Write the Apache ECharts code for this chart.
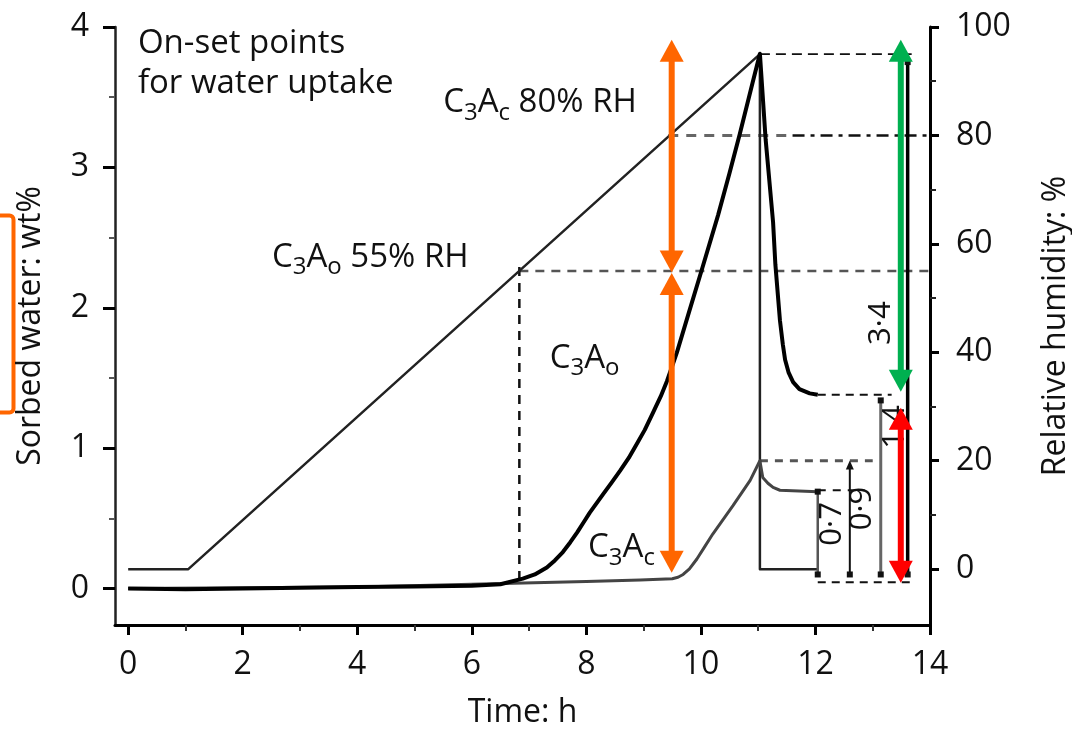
<!DOCTYPE html>
<html>
<head>
<meta charset="utf-8">
<script src="https://cdn.jsdelivr.net/npm/echarts@6/dist/echarts.min.js"></script>
<style>
  html, body { margin: 0; padding: 0; background: #fff; }
  #chart { width: 1072px; height: 729px; }
</style>
</head>
<body>
<div id="chart"></div>
<script>
// axis ticks
const timeTicks = [0, 2, 4, 6, 8, 10, 12, 14];
const timeMinor = [1, 3, 5, 7, 9, 11, 13];
const wtTicks = [0, 1, 2, 3, 4];
const wtMinor = [0.5, 1.5, 2.5, 3.5];
const rhTicks = [0, 20, 40, 60, 80, 100];
const rhMinor = [10, 30, 50, 70, 90];

// measured curves [time h, value]
const rhProgram = [[0, 0], [1.05, 0], [11.03, 95], [11.03, 0], [12.04, 0]];
const c3aO = [[0, 0], [1, -0.005], [2, 0], [3, 0.005], [4, 0.01], [5, 0.015], [6, 0.02], [6.5, 0.03],
  [6.89, 0.07], [7.1, 0.1], [7.31, 0.15], [7.45, 0.2], [7.59, 0.26], [7.72, 0.33], [7.84, 0.4],
  [7.95, 0.47], [8.06, 0.54], [8.29, 0.67], [8.45, 0.76], [8.59, 0.84], [8.74, 0.93],
  [8.88, 1.03], [9.02, 1.13], [9.16, 1.25], [9.3, 1.37], [9.41, 1.48], [9.58, 1.68], [9.8, 1.98], [10.03, 2.29], [10.3, 2.66],
  [10.5, 2.96], [10.68, 3.24], [10.9, 3.6], [11.03, 3.81], [11.13, 3.2], [11.26, 2.61], [11.3, 2.31], [11.38, 1.91],
  [11.43, 1.74], [11.47, 1.63], [11.53, 1.54], [11.61, 1.47], [11.72, 1.42], [11.9, 1.39], [12.04, 1.38]];
const c3aC = [[0, 0], [2, 0.005], [4, 0.01], [6, 0.03], [8, 0.05], [8.94, 0.06], [9.5, 0.07],
  [9.6, 0.08], [9.69, 0.1], [9.8, 0.14], [9.93, 0.21], [10.07, 0.3], [10.21, 0.39], [10.56, 0.59], [10.86, 0.77], [11.03, 0.91],
  [11.08, 0.79], [11.17, 0.75], [11.26, 0.72], [11.38, 0.7], [12.04, 0.69]];

// guide lines
const rh95Line = [[11.03, 95], [13.68, 95]];
const rh80Line = [[9.43, 80], [11.6, 80]];
const rh80LineEnd = [[11.6, 80], [14, 80]];
const rh55Line = [[6.83, 55], [14, 55]];
const onset55Drop = [[6.83, 2.29], [6.83, 0.07]];
const c3aCPeakLine = [[11.03, 0.91], [13.0, 0.91]];
const c3aCPlateauLine = [[12.04, 0.7], [12.86, 0.7]];
const c3aOPlateauLine = [[12.04, 1.38], [13.33, 1.38]];
const baseLine = [[12.04, 0.045], [13.65, 0.045]];

// dimension brackets
const bracket07 = [[12.04, 0.69], [12.04, 0.1]];
const bracket09 = [[12.6, 0.88], [12.6, 0.1]];
const bracket14 = [[13.14, 1.34], [13.14, 0.1]];
const bracket34 = [[13.61, 3.75], [13.61, 0.1]];

// highlight arrows
const orangeArrowTop = [[9.49, 3.83], [9.49, 2.33]];
const orangeArrowBottom = [[9.49, 2.17], [9.49, 0.19]];
const greenArrow = [[13.49, 3.83], [13.49, 1.48]];
const redArrow = [[13.49, 1.21], [13.49, 0.12]];

// text notes [time, wt%]
const notes = [
  { text: 'On-set points\nfor water uptake', at: [0.17, 3.74] },
  { text: '{m|C}{s|3}{m|A}{s|c}{m| 80% RH}', at: [5.5, 3.46] },
  { text: '{m|C}{s|3}{m|A}{s|o}{m| 55% RH}', at: [2.51, 2.36] },
  { text: '{m|C}{s|3}{m|A}{s|o}', at: [7.36, 1.64] },
  { text: '{m|C}{s|3}{m|A}{s|c}', at: [8.03, 0.29] }
];
const dimLabels = [
  { text: '0·7', at: [12.3, 0.46] },
  { text: '0·9', at: [12.81, 0.57] },
  { text: '1·4', at: [13.39, 1.15] },
  { text: '3·4', at: [13.14, 1.89] }
];

const font = 'Open Sans';
const ink = '#111';

function path(data, yAxisIndex, color, width, type, z) {
  return {
    type: 'line', xAxisIndex: 0, yAxisIndex: yAxisIndex, data: data,
    symbol: 'none', showSymbol: false, silent: true, z: z || 2,
    lineStyle: { color: color, width: width, type: type || 'solid', cap: 'butt', join: 'round' }
  };
}

function bracket(data, color, width, topSymbol) {
  return {
    type: 'line', xAxisIndex: 0, yAxisIndex: 0, silent: true, z: 3,
    data: [
      { value: data[0], symbol: topSymbol || 'rect', symbolSize: topSymbol ? [8, 9] : 6 },
      { value: data[1], symbol: 'rect', symbolSize: 6 }
    ],
    showSymbol: true,
    itemStyle: { color: '#111' },
    lineStyle: { color: color, width: width }
  };
}

function arrow(data, color) {
  return {
    type: 'line', xAxisIndex: 0, yAxisIndex: 0, silent: true, z: 10,
    data: [
      { value: data[0], symbol: 'triangle', symbolRotate: 0 },
      { value: data[1], symbol: 'triangle', symbolRotate: 180 }
    ],
    showSymbol: true, symbolSize: [24, 22],
    itemStyle: { color: color },
    lineStyle: { color: color, width: 6 }
  };
}

const series = [
  path(rh55Line, 1, '#555', 2.5, [9, 7], 1),
  path(rh80Line, 1, '#666', 3, [10, 8], 1),
  path(rh80LineEnd, 1, '#111', 2.5, [12, 6, 4, 6], 1),
  path(rh95Line, 1, '#111', 1.8, [10, 6], 1),
  path(onset55Drop, 0, '#111', 2.5, [9, 7], 1),
  path(c3aCPeakLine, 0, '#555', 3, [8, 7], 1),
  path(c3aCPlateauLine, 0, '#111', 2, [8, 7], 1),
  path(c3aOPlateauLine, 0, '#111', 2, [8, 6], 1),
  path(baseLine, 0, '#111', 2, [8, 6], 1),
  path(rhProgram, 1, '#222', 2.5, 'solid', 2),
  path(c3aC, 0, '#444', 3, 'solid', 3),
  path(c3aO, 0, '#000', 4, 'solid', 4),
  bracket(bracket07, '#555', 2.5),
  bracket(bracket09, '#111', 2, 'triangle'),
  bracket(bracket14, '#666', 3),
  bracket(bracket34, '#000', 3.5),
  {
    type: 'scatter', xAxisIndex: 0, yAxisIndex: 0, silent: true, z: 5, symbolSize: 0,
    itemStyle: { opacity: 1 },
    data: notes.map(n => ({
      value: n.at,
      label: {
        show: true, position: 'right', distance: 0, formatter: n.text,
        fontFamily: font, fontSize: 33, lineHeight: 40, color: ink,
        rich: {
          m: { fontFamily: font, fontSize: 33, lineHeight: 44, color: ink },
          s: { fontFamily: font, fontSize: 24, lineHeight: 24, verticalAlign: 'bottom', color: ink }
        }
      }
    }))
  },
  {
    type: 'scatter', xAxisIndex: 0, yAxisIndex: 0, silent: true, z: 5, symbolSize: 0,
    itemStyle: { opacity: 1 },
    data: dimLabels.map(n => ({
      value: n.at,
      label: {
        show: true, position: 'inside', rotate: 90, formatter: n.text,
        fontFamily: font, fontSize: 31, color: ink
      }
    }))
  },
  arrow(orangeArrowTop, '#FF6600'),
  arrow(orangeArrowBottom, '#FF6600'),
  arrow(greenArrow, '#00B050'),
  arrow(redArrow, '#FF0000')
];

const labelStyle = { fontFamily: font, fontSize: 32, color: ink };

const chart = echarts.init(document.getElementById('chart'));
chart.setOption({
  animation: false,
  backgroundColor: '#fff',
  textStyle: { fontFamily: font },
  grid: { left: 115, right: 142, top: 27, bottom: 104, containLabel: false, outerBoundsMode: 'none' },
  xAxis: [
    {
      type: 'value', min: -0.23, max: 14, position: 'bottom',
      name: 'Time: h', nameLocation: 'middle', nameGap: 72,
      nameTextStyle: { fontFamily: font, fontSize: 32, color: ink },
      axisLine: { show: true, onZero: false, lineStyle: { color: '#000', width: 3 } },
      axisTick: { show: true, customValues: timeTicks, length: 10, lineStyle: { color: '#000', width: 3 } },
      axisLabel: Object.assign({ customValues: timeTicks, margin: 24 }, labelStyle),
      splitLine: { show: false }
    },
    {
      type: 'value', min: -0.23, max: 14, position: 'bottom',
      axisLine: { show: false, onZero: false },
      axisTick: { show: true, customValues: timeMinor, length: 6, lineStyle: { color: '#333', width: 2 } },
      axisLabel: { show: false },
      splitLine: { show: false }
    }
  ],
  yAxis: [
    {
      type: 'value', min: -0.26, max: 4, position: 'left',
      name: 'Sorbed water: wt%', nameLocation: 'middle', nameGap: 68, nameRotate: 90,
      nameTextStyle: { fontFamily: font, fontSize: 32, color: ink },
      axisLine: { show: true, onZero: false, lineStyle: { color: '#222', width: 2.5 } },
      axisTick: { show: true, customValues: wtTicks, length: 12, lineStyle: { color: '#000', width: 3 } },
      axisLabel: Object.assign({ customValues: wtTicks, margin: 26 }, labelStyle),
      splitLine: { show: false }
    },
    {
      type: 'value', min: -10.3, max: 100, position: 'right',
      name: 'Relative humidity: %', nameLocation: 'middle', nameGap: 110, nameRotate: 90,
      nameTextStyle: { fontFamily: font, fontSize: 32, color: ink },
      axisLine: { show: true, onZero: false, lineStyle: { color: '#000', width: 3 } },
      axisTick: { show: true, customValues: rhTicks, length: 9, lineStyle: { color: '#000', width: 3 } },
      axisLabel: Object.assign({ customValues: rhTicks, margin: 26 }, labelStyle),
      splitLine: { show: false }
    },
    {
      type: 'value', min: -0.26, max: 4, position: 'left',
      axisLine: { show: false, onZero: false },
      axisTick: { show: true, customValues: wtMinor, length: 6, lineStyle: { color: '#555', width: 2 } },
      axisLabel: { show: false },
      splitLine: { show: false }
    },
    {
      type: 'value', min: -10.3, max: 100, position: 'right',
      axisLine: { show: false, onZero: false },
      axisTick: { show: true, customValues: rhMinor, length: 6, lineStyle: { color: '#222', width: 2 } },
      axisLabel: { show: false },
      splitLine: { show: false }
    }
  ],
  graphic: [
    {
      type: 'rect', left: -20, top: 213, silent: true,
      shape: { width: 31, height: 197, r: 4 },
      style: { fill: 'none', stroke: '#FF6600', lineWidth: 4 }
    }
  ],
  series: series
});
</script>
</body>
</html>
